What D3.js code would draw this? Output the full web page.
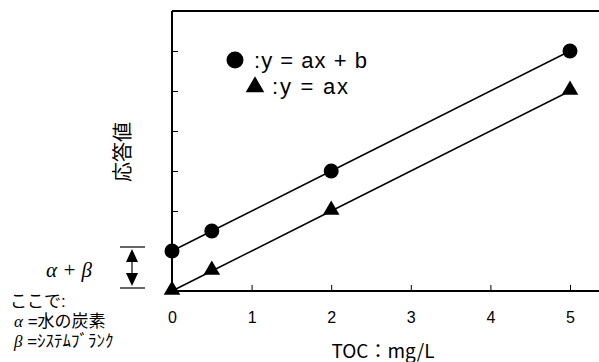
<!DOCTYPE html>
<html>
<head>
<meta charset="utf-8">
<script src="https://cdn.jsdelivr.net/npm/d3@7"></script>
<style>
  body { margin: 0; background: #fff; }
  svg { display: block; }
</style>
</head>
<body>
<svg id="chart" width="599" height="362"></svg>
<script>
// data
const tocValues = [0, 0.5, 2, 5];
const withBlank = [1, 1.5, 3, 6];   // y = ax + b
const noBlank = [0, 0.5, 2, 5];     // y = ax
const xTicks = [0, 1, 2, 3, 4, 5];
const yTicks = [1, 2, 3, 4, 5, 6, 7];
const legendLabels = [":y = ax + b", ":y = ax"];
const notes = [["", "ここで:"], ["α", " =水の炭素"], ["β", " =ｼｽﾃﾑﾌﾞﾗﾝｸ"]];

let chart = d3.select("#chart"),
    margin = {top: 11, left: 172},
    width = 599 - margin.left,
    height = 280;

let x = d3.scaleLinear().domain([0, 5]).range([0, 398]);
let y = d3.scaleLinear().domain([0, 7]).range([height, 0]);

let jp = "'Noto Sans CJK JP', sans-serif";
let lat = "'Liberation Sans', Arial, sans-serif";
let greek = "'Liberation Serif', serif";

let focus = chart.append("g")
    .attr("transform", "translate(" + margin.left + "," + margin.top + ")");

// top frame line
focus.append("line")
    .attr("x1", 0).attr("x2", width)
    .attr("y1", 0).attr("y2", 0)
    .attr("stroke", "#000").attr("stroke-width", 2);

// axes with inward ticks
let yAxis = focus.append("g")
    .call(d3.axisLeft(y).tickValues(yTicks).tickSizeInner(-6).tickSizeOuter(0).tickFormat(""));
let xAxis = focus.append("g")
    .attr("transform", "translate(0," + height + ")")
    .call(d3.axisBottom(x).tickValues(xTicks).tickSizeInner(-6).tickSizeOuter(0)
        .tickPadding(21).tickFormat(d3.format("d")));

[yAxis, xAxis].forEach(function(g) {
    g.select(".domain").attr("stroke-width", 2);
    g.selectAll(".tick line").attr("stroke-width", 1);
});
// x axis runs on to the right edge
xAxis.select(".domain").attr("d", "M0,0H" + width);
yAxis.select(".domain").attr("d", "M0,0V" + height);
xAxis.selectAll(".tick text")
    .attr("font-family", lat)
    .attr("font-size", 16)
    .attr("fill", "#000");

let pts1 = tocValues.map((t, i) => ({t: t, v: withBlank[i]}));
let pts2 = tocValues.map((t, i) => ({t: t, v: noBlank[i]}));

let line = d3.line()
    .x(d => x(d.t))
    .y(d => y(d.v));

[pts1, pts2].forEach(function(p) {
    focus.append("path")
        .datum(p)
        .attr("fill", "none")
        .attr("stroke", "#000")
        .attr("stroke-width", 1.5)
        .attr("d", line);
});

focus.selectAll("circle.pt")
    .data(pts1)
    .enter()
    .append("circle")
    .attr("class", "pt")
    .attr("r", 7.5)
    .attr("cx", d => x(d.t))
    .attr("cy", d => y(d.v))
    .attr("fill", "#000");

let tri = d3.symbol().type(d3.symbolTriangle).size(120);
focus.selectAll("path.tri")
    .data(pts2)
    .enter()
    .append("path")
    .attr("class", "tri")
    .attr("d", tri)
    .attr("transform", d => "translate(" + x(d.t) + "," + (y(d.v) - 1) + ")")
    .attr("fill", "#000");

// legend
let legend = chart.append("g");
legend.append("circle")
    .attr("cx", 235).attr("cy", 60).attr("r", 8.5).attr("fill", "#000");
legend.append("path")
    .attr("d", d3.symbol().type(d3.symbolTriangle).size(150))
    .attr("transform", "translate(255,87)")
    .attr("fill", "#000");
legend.selectAll("text")
    .data(legendLabels)
    .enter()
    .append("text")
    .attr("x", (d, i) => i === 0 ? 254 : 272)
    .attr("y", (d, i) => i === 0 ? 68 : 94)
    .attr("font-family", lat)
    .attr("font-size", 22)
    .attr("fill", "#000")
    .attr("textLength", (d, i) => i === 0 ? 113 : 76)
    .attr("lengthAdjust", "spacing")
    .text(d => d);

// axis titles
chart.append("text")
    .attr("x", 383).attr("y", 358)
    .attr("text-anchor", "middle")
    .attr("font-family", jp)
    .attr("font-size", 19)
    .attr("fill", "#000")
    .text("TOC：mg/L");

chart.append("text")
    .attr("transform", "translate(130,152) rotate(-90)")
    .attr("text-anchor", "middle")
    .attr("font-family", jp)
    .attr("font-size", 20)
    .attr("fill", "#000")
    .text("応答値");

// alpha + beta bracket
let ann = chart.append("g")
    .attr("transform", "translate(0," + margin.top + ")");
let yTop = y(1) - 4, yBot = y(0) - 3, ax = 132;
ann.selectAll("line.cap")
    .data([yTop, yBot])
    .enter()
    .append("line")
    .attr("x1", 120).attr("x2", 145)
    .attr("y1", d => d).attr("y2", d => d)
    .attr("stroke", "#000").attr("stroke-width", 1.2);
ann.append("line")
    .attr("x1", ax).attr("x2", ax)
    .attr("y1", yTop + 4).attr("y2", yBot - 4)
    .attr("stroke", "#000").attr("stroke-width", 1.2);
ann.append("path")
    .attr("d", "M" + ax + "," + (yTop + 2) + "l-6,13h12z")
    .attr("fill", "#000");
ann.append("path")
    .attr("d", "M" + ax + "," + (yBot - 2) + "l-6,-13h12z")
    .attr("fill", "#000");

chart.append("text")
    .attr("x", 69).attr("y", 277)
    .attr("text-anchor", "middle")
    .attr("font-family", greek)
    .attr("font-style", "italic")
    .attr("font-size", 21)
    .attr("fill", "#000")
    .text("α + β");

// notes under the bracket; a latin font first keeps the line boxes short
let noteText = chart.selectAll("text.note")
    .data(notes)
    .enter()
    .append("text")
    .attr("class", "note")
    .attr("x", (d, i) => i === 0 ? 10 : 14)
    .attr("y", (d, i) => 307 + i * 20)
    .attr("font-family", "'Liberation Sans', 'Noto Sans CJK JP', sans-serif")
    .attr("font-size", 17)
    .attr("fill", "#000");
noteText.append("tspan")
    .attr("font-family", greek)
    .attr("font-style", "italic")
    .text(d => d[0]);
noteText.append("tspan")
    .text(d => d[1]);
</script>
</body>
</html>
